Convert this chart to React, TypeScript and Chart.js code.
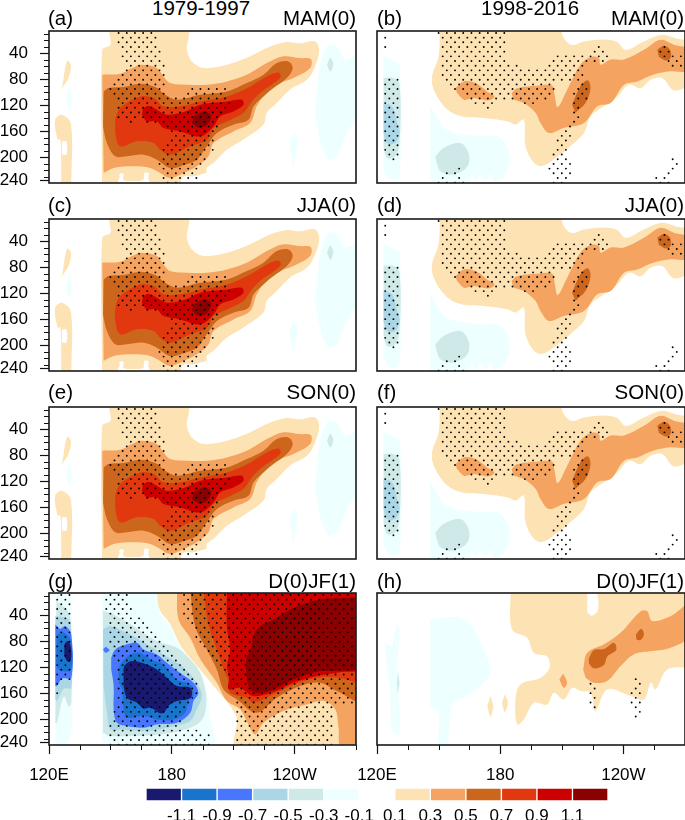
import React, { useEffect, useRef } from "react";
import { Chart, registerables } from "chart.js";
Chart.register(...registerables);

const FONT = "'Liberation Sans', Arial, sans-serif";

const neg = ["#191970", "#1874CD", "#4876FF", "#ABD6E6", "#CFE9E9", "#EEFFFF"];
const pos = ["#FDE3B4", "#F4A460", "#CD661D", "#E2380F", "#CD0000", "#8B0000"];

const xMajor = [120, 180, 240];
const xMajorLabels = ["120E", "180", "120W"];
const xMinor = [135, 150, 165, 195, 210, 225, 255, 270];
const yMajor = [40, 80, 120, 160, 200, 236.4];
const yMajorLabels = ["40", "80", "120", "160", "200", "240"];
const yMinor = [10, 20, 30, 50, 60, 70, 90, 100, 110, 130, 140, 150, 170, 180, 190, 210, 220, 230];
const stippleDepths = [9, 16.2, 23.4, 30.6, 37.8, 45, 52.2, 59.4, 66.6, 73.8, 81, 88.2, 95.4, 102.6, 109.8, 117, 124.2, 131.4, 138.6, 145.8, 153, 160.2, 167.4, 174.6, 181.8, 189, 196.2, 203.4, 210.6, 217.8, 225, 232.2, 239.4];

// ---- 1979-1997 MAM/JJA/SON contours (lon, depth)
const aCream = [[145.9,244],[146,35],[150,27],[150.3,3],[187.4,3],[187.4,35],[189.8,53],[195.5,63],[206.9,58],[218.3,45],[228,30],[236.2,23],[242.7,25],[250,22],[252,35],[250,60.5],[246,81],[237.8,96],[231.3,117],[226.4,132],[224.8,150],[215,173],[206.9,189],[200.4,209],[197,217],[197,224],[194,227],[190,230],[185.7,230],[183,244],[171,244],[168.6,234],[168.6,225],[166.5,225],[166,235],[159,237],[156.4,235],[156.4,226],[154.5,226],[154.5,232],[152.4,244]];
const aSliverTop = [[126.3,96],[128.8,52],[130.7,58],[129.6,78],[127,91]];
const aSliverLow = [[126,244],[125.6,173],[124.2,173],[123,142.6],[126.3,135],[130.7,149],[130.9,244]];
const aSliverHole = [[126.3,176],[128.5,176],[128.5,196],[126.3,196]];
const aCyanRight = [[250.8,106.7],[252.4,60.5],[256.5,27],[260.6,30],[264.6,50],[271,45],[271,132],[265.5,163],[260.6,199],[256.5,204],[252.4,173],[250,132]];
const aCyanSpot = [[257.3,46],[258.9,55.4],[257.6,68.7],[255.8,57.9]];
const aCyanThin = [[239.4,163],[241.5,173],[240.2,199],[239.4,213],[238.6,199],[237.5,178]];
const aCyanLeft = [[129.6,92],[130.9,107],[130.9,122],[129.6,127],[128.3,112]];
const aP03 = [[146,73.3],[154.8,71.8],[160.5,63],[165.4,58],[172.7,63],[176,76],[179.2,86],[187.4,88.7],[197,88.7],[206.9,83.6],[216.6,73.3],[226.4,55.4],[234.5,45],[242.7,47.7],[247.9,49],[247.6,63],[239.4,78.5],[232.9,86],[226.4,99],[221.5,122],[218.3,147.7],[210.1,160.6],[200.4,178.5],[197.9,199],[192.2,214.4],[185.7,224.7],[179.2,232.4],[174.3,224.7],[169.5,217],[161.3,214.4],[151.6,217],[146.7,224.7]];
const aP05 = [[146.7,99],[149.1,93.8],[156.4,92.3],[164.6,87.2],[171.9,92.3],[176.8,104.1],[182.5,111.8],[193.9,104.1],[206.9,99],[216.6,86.2],[224.8,73.3],[231.3,55.4],[237,52.8],[239.1,63.1],[236.2,78.5],[229.7,93.8],[224.8,106.7],[219.9,122.1],[217.5,142.6],[210.1,150.3],[202,163.1],[197.1,183.6],[192.2,204.2],[186.5,211.9],[179.2,217],[172.7,204.2],[166.2,196.5],[158.1,199],[152.4,199],[148.3,178.5],[146.4,152.9]];
const aP07 = [[153.2,132.3],[155.6,122],[164.6,106.7],[171.1,109.3],[176,122],[184.1,122],[193.9,114.4],[206.9,106.7],[218.3,91.3],[226.4,75.9],[232.1,69.8],[233.2,76.9],[228.8,88.7],[224,99],[219.1,114.4],[215,132.3],[206.9,145.2],[200.4,155.4],[197.1,173.4],[189,183.6],[179.2,196.5],[174.3,188.8],[171.1,178.5],[163,175.9],[154.8,183.6],[152.4,163.1],[152.4,142.6]];
const aP09 = [[165.9,124.6],[168.6,121],[172.7,127.2],[177.6,134.9],[186.5,129.8],[193.9,119.5],[206.9,114.4],[214.2,111.8],[215,119.5],[210.1,129.8],[203.6,137.5],[200.4,152.9],[193.9,168.3],[184.1,160.6],[176,155.4],[172.7,145.2],[167.8,145.2],[165.4,134.9]];
const aP11 = [[190.6,137.5],[195.5,129.8],[199.1,134.9],[198,147.7],[193.9,155.4],[189.8,147.7]];

// ---- 1998-2016 MAM/JJA/SON contours
const bCream = [[150.6,3],[150,45],[146.8,76],[147.6,96],[153.3,124],[160.6,137],[172,140],[183.4,145],[187.4,150],[191.5,142.6],[192.3,183.6],[196.4,209],[200.4,214],[206.1,204],[215.9,178.5],[220.8,163],[224,137.5],[230.5,122],[237,106.7],[242.7,88.7],[248.4,94],[253.3,81],[258.9,78.5],[264.6,97.5],[272,86],[272,25],[265.4,17],[258.1,12],[250,22],[241,35],[237,23],[230.5,19],[220.8,22],[215,27.5],[211,17],[209.7,3]];
const bP03Main = [[185.5,101.6],[188.2,94],[198,90.3],[205.3,90.3],[206.5,104],[208,123],[212.6,96.4],[219,58],[224,46],[228,47.7],[228.9,58],[233.8,50],[240.3,50],[250,35],[258.1,19.5],[264.6,27],[272,35],[272,66.7],[263,68],[254.9,73],[246.8,83.6],[240.3,88.7],[233.8,117],[227.3,122],[220.8,147.7],[211,155.4],[203.7,163],[199.6,147.7],[197.2,132],[191.5,117],[186.6,111.8]];
const bP03Blob = [[158.2,94],[162.3,83.6],[168,86.2],[173.6,99],[177.2,106.7],[174.4,112.8],[167.1,109.3],[162.3,111.8],[159,101.6]];
const bP05Mid = [[215,119.5],[219,91.3],[222.6,82],[224,94],[221.5,117],[216.7,132]];
const bP05Right = [[256.5,35],[259.8,28.7],[262.7,35],[263,47.7],[260.6,51.3],[257.3,46]];
const bN01Left = [[123.2,42.6],[126.5,50],[131,58],[131,230],[126.5,235],[123.2,220]];
const bN03Left = [[123.2,78.5],[128.1,78.5],[131,88.7],[131,178.5],[128.8,199],[124.9,201.6],[123.2,183.6]];
const bN05Left = [[123.2,117],[127.3,122],[129.8,147.7],[131,163],[128.8,178.5],[124.9,178.5],[123.2,163]];
const bN01Main = [[146,122],[154.1,158],[172,168],[178.5,168],[183.4,183.6],[184.5,209],[181.8,230],[177,237.5],[175.4,225],[172.9,237.5],[170.4,227.5],[167.9,237.5],[166.3,225],[163.9,244],[146,244]];
const bN03Main = [[148.4,199],[152.4,186],[160.6,178.5],[164.6,194],[164.1,214.4],[157.3,227],[150.9,222],[149,209]];

// ---- 1979-1997 D(0)JF(1) contours
const gCream = [[172.7,2],[174,31],[179.2,54],[184.9,90],[193.9,124],[200.4,149],[208.5,180],[211.8,200],[211.8,246],[276,246],[276,2]];
const gP03 = [[182.5,2],[183.3,46.7],[189,75],[193.9,108],[202,144],[206.9,172],[213.4,185],[216.6,203],[220.7,223.7],[224.8,205.7],[234.5,187.7],[245.9,177.5],[254,172],[259.8,185],[261.4,211],[263,246],[276,246],[276,2]];
const gP05 = [[189,2],[191.4,57],[197.1,92.8],[202,123.6],[205.3,154.4],[211.8,169.8],[221.5,190.3],[231.3,167.2],[242.7,149.3],[252.4,144.1],[260.6,157],[276,175],[276,2]];
const gP07 = [[195.5,2],[197.9,55],[202,92.8],[205.3,123.6],[207.7,141.5],[208.5,159.5],[216.6,167.2],[219.9,174.9],[231.1,159.5],[242,144],[252.3,136],[260.6,136],[276,141],[276,2]];
const gP09 = [[206.9,2],[206.9,57],[208.5,92],[207,118],[208,136],[207.7,154],[213.4,152],[219.9,165],[231,157],[239.4,144],[252,133],[260.6,128.7],[276,118],[276,2]];
const gP11 = [[218.3,92.8],[221.5,62],[231.3,44],[239.4,28.7],[252.4,16],[262,14],[276,18],[276,116],[259,126],[252.4,126],[239.4,139],[229.7,154.4],[221.5,159.5],[217.5,149],[216.3,123.6],[216.3,108.2]];
const gN01 = [[145.9,2],[171.9,2],[174.3,36.4],[179.2,57],[184.9,92.8],[193,123.6],[197.1,159.5],[198.7,195.4],[199.6,244],[145.9,236]];
const gN03 = [[146.4,33.8],[151.6,39],[161.3,57],[172.7,80],[182.5,90.3],[188.2,105.7],[193.9,128.7],[196.8,164.7],[195.8,195.4],[192.2,208.3],[184.1,218.5],[174.3,223.7],[161.3,226.2],[150,226.2],[146.4,221]];
const gN05 = [[146.4,62],[150,57],[161.3,72.3],[167.8,85],[176,100.5],[184.9,118.5],[192.2,144],[194.7,164.7],[192.2,185],[189,203],[180.9,211],[167.8,218.5],[154.8,216],[150,216],[148.3,190],[146.7,149]];
const gN07 = [[150.4,105.7],[152.4,92.8],[158.1,85],[163,82.6],[166.2,92.8],[172.7,100.5],[177.6,113.4],[184.9,131],[190.6,144],[193,159.5],[190.6,172.4],[189,190.3],[182.5,205.7],[172.7,208.3],[166.2,213.4],[158.1,210.8],[153.2,205.7],[151.6,185.2],[151.6,149.3],[150.4,123.6]];
const gN07Spot = [[147.7,88.7],[149.6,93.9],[147.7,98],[146.4,92.9]];
const gN09 = [[154,128.7],[154.8,115.9],[159.7,100.5],[164.6,98],[169.5,108.2],[176,115.9],[182.5,139],[189,146.7],[190.6,162],[188.2,172.4],[186.5,190.3],[180.9,200.6],[172.7,200.6],[166.2,195.4],[158.1,198],[156.4,185.2],[155.6,154.4],[154,144]];
const gN11 = [[156.4,133.9],[156.8,118.5],[160.5,110.8],[167.8,116],[172.7,123.6],[177.6,136.4],[182.5,149.3],[189,151.8],[189.3,167.2],[182.5,172.4],[179.2,177.5],[175.2,191.3],[169.5,182.6],[166.2,184],[163,174.9],[158.1,167.2],[156.4,149.3]];
const gStripN01 = [[123.1,2],[130,2],[130.9,100],[130.9,220],[127.2,244],[123.1,244]];
const gStripN03 = [[123.6,18.5],[129.6,36.4],[130.9,72.3],[130.9,175],[129.6,180.6],[127.2,165.3],[123.9,206],[123.1,206]];
const gStripN05 = [[123.1,41.5],[129.6,46.7],[130.9,72.3],[130.9,151.8],[127.2,153.4],[123.9,172.4],[123.1,170]];
const gStripN07 = [[123.1,54.4],[125.5,61],[128,57],[130.9,69.8],[130.9,136.4],[126.3,138],[123.9,149.3],[123.1,149.3]];
const gStripN09 = [[123.9,69.8],[127.2,67.2],[130.7,80],[130.7,123.6],[126.3,126.2],[123.9,118.5],[123.6,98]];
const gStripN11 = [[127.5,85],[129.3,80],[130.7,90.3],[130.7,108.2],[129.3,112.3],[127.5,103]];

// ---- 1998-2016 D(0)JF(1) contours
const hCream = [[185,2],[185.8,62],[193.1,74.9],[196.4,98],[202.9,104],[204,121],[199.6,136.4],[189.9,146.7],[187.4,169.8],[188.3,208.3],[191.5,200.6],[196.4,175],[202.9,177.7],[206.1,159.5],[211,169.8],[215.1,151.8],[219.1,157],[224,159.5],[226.4,187.7],[232.1,154.4],[243.5,164.7],[250,169.8],[253.3,144],[255.7,154.4],[261.4,123.6],[276,113.4],[276,2]];
const hNotch = [[222.4,2],[226.5,2],[227.7,30.7],[224.8,41],[222.4,36]];
const hOvalA = [[175.3,164.7],[176.6,180],[175.3,196.5],[173.7,180]];
const hOvalB = [[182.2,162],[183.8,175],[182.2,189.3],[180.9,175]];
const hP03 = [[220.4,123.6],[222.4,98],[230.5,85],[238.6,67.2],[248.4,34],[251.6,34],[254,49.2],[263,41.5],[272,24],[272,72.3],[263,90.3],[254,95.4],[245,100.5],[238.6,118.5],[232.1,141.6],[225.6,144],[221.6,136.4]];
const hP03Oval = [[210.7,129.8],[212.6,144],[211,151.8],[208.8,139]];
const hP05A = [[223.2,106.7],[225.6,93.8],[230.5,92.3],[235.4,82.6],[236.5,93.8],[232.1,104],[230.5,116.8],[225.6,122],[223.2,114.4]];
const hP05B = [[246.1,70],[248.7,61],[250,70],[248.4,78.5],[246.3,77.6]];
const hN01Main = [[146,46.7],[160.6,44],[167.1,62],[175.2,123.6],[172,144],[163.9,164.7],[157.4,175],[155.7,195.4],[154.1,244],[150,244],[150,190],[146,180]];
const hN01Left = [[129.8,51.8],[131,62],[129.8,123.6],[131,223.7],[127.3,216],[126.5,159.5],[124,85],[127.3,88]];
const hN03 = [[130.2,126],[130.9,144],[130.2,159.5],[129.8,144]];

// ---- stippling: per row of stippleDepths, pairs of [lonFrom, lonTo]
const stippleA = [[153,173],[153,173.5],[154,173.5],[155.6,173.5],[155.6,174.3],[155.6,175.5],[155.6,176],[157.3,176],[155.6,176],[153.2,176],[152.4,176.8],[150,177.6],[150,177.6,187.4,207],[151.6,179.2,184.9,207],[151.6,208],[153.2,208.5],[153.2,207],[154,205.3],[154,203.6],[158.9,160.5,166.2,202],[174.3,202],[177.6,200.4],[179.2,200.4],[177.6,200.4],[176,200.4],[174.3,200.4],[174.3,197],[173.5,197],[173.5,195.5],[174.3,195.5],[176,193.9],[176,192.2],[175.2,183.3]];
const stippleB = [[149,150,153,183],[124,125,151,183],[152.5,183],[124,125,150.9,183.4,224.8,229.7,258,262],[150.9,183.4,222.4,232.1,257.3,263],[150.9,183.4,204.5,235.4,259.8,269.5],[150.9,185,202.9,232.9,261.4,269.5],[150.9,189.9,200.4,220.8,261.4,269.5],[151.7,220.8],[151.7,220.8],[123,130,153.3,220.8],[123,130,154.9,206,217.5,223.2],[123,130,156.6,206,217.5,223.2],[123,130,162.3,204.5,215.9,223.2],[123,130,163.9,204.5,215.9,222.4],[123,130,166.3,176.9,189.9,198,215.9,219.9],[123,130,172,176.9,215.9,219.9],[123,130,215.9,219.1],[123,130,214.3,219.1],[123,130,212.6,217.5],[123,130,211,215.9],[123,130,209.4,214.3],[123,130,207.8,214.3],[123,130,206.1,213.4],[123,130,206.1,212.6],[123,130,205.3,212.6],[125.7,130,204.5,211.8],[127.3,128.1,204.5,215.9,263.8,264.8],[202.9,215.1,263,267.1],[157,161,203.7,215.1,261.4,265.4],[150.9,161,204.5,214.3,261.4,265.4],[150.9,154,159,161,205.3,213.4,254,263],[146.8,163.9,205.3,213.4,255.7,265.4]];
const stippleG = [[123,131,147.5,158,184,270],[123,131,147.5,158.9,184.2,270],[123,131,147.5,159,185,270],[123,131,147.5,160.5,185.5,270],[123,131,147.5,161.3,185.7,270],[123,131,148.3,164.6,186.5,270],[123,131,148.3,167.8,187.4,270],[123,131,148.3,169.5,189,270],[123,131,148.3,172,190.6,270],[123,131,149,173.5,192,270],[123,131,150,176,194,270],[123,131,150.8,177.6,195.5,270],[123,131,150.8,179,197,270],[123,131,150.8,181,198.7,270],[123,131,151.6,184,200.4,270],[123,131,152.4,185.7,202,270],[123,131,152.4,187.4,203.6,270],[123,131,153.2,190,205,270],[123,131,153.2,191.4,207,270],[123,125,153.2,192.2,208.5,270],[123,125,153.2,193,210,270],[123,125,152.4,192.2,210,270],[152.4,190,211.8,270],[152.4,190,211.8,270],[152.4,187.4,211.8,259],[151.6,186.5,211.8,259],[151.6,185.7,211.8,259],[150.8,185,211.8,259],[150,184,211.8,259],[150,195.5,211.8,259],[150,198.5,211.8,259],[150,198.5,211.8,259],[150,198.5,211.8,259]];
const stippleH = [[],[],[],[],[],[],[],[],[],[],[],[],[],[],[],[],[],[],[245.9,246.1],[223.9,224.1,247.9,248.1],[225.9,226.1,245.9,246.1],[223.9,224.1,243.9,248.1],[225.9,226.1,245.9,246.1],[223.9,224.1,243.9,248.1],[225.9,226.1,245.9,246.1],[247.9,248.1],[245.9,246.1]];

// ---- panels
type Layer = [string, number[][]];
const layersA: Layer[] = [[pos[0], aCream],[pos[0], aSliverTop],[pos[0], aSliverLow],["#ffffff", aSliverHole],[neg[5], aCyanRight],[neg[4], aCyanSpot],[neg[5], aCyanThin],[neg[5], aCyanLeft],[pos[1], aP03],[pos[2], aP05],[pos[3], aP07],[pos[4], aP09],[pos[5], aP11]];
const layersB: Layer[] = [[pos[0], bCream],[pos[1], bP03Main],[pos[1], bP03Blob],[pos[2], bP05Mid],[pos[2], bP05Right],[neg[5], bN01Left],[neg[4], bN03Left],[neg[3], bN05Left],[neg[5], bN01Main],[neg[4], bN03Main]];
const layersG: Layer[] = [[neg[5], gN01],[neg[4], gN03],[neg[3], gN05],[neg[2], gN07],[neg[2], gN07Spot],[neg[1], gN09],[neg[0], gN11],[neg[5], gStripN01],[neg[4], gStripN03],[neg[3], gStripN05],[neg[2], gStripN07],[neg[1], gStripN09],[neg[0], gStripN11],[pos[0], gCream],[pos[1], gP03],[pos[2], gP05],[pos[3], gP07],[pos[4], gP09],[pos[5], gP11]];
const layersH: Layer[] = [[neg[5], hN01Main],[neg[5], hN01Left],[neg[4], hN03],[pos[0], hCream],["#ffffff", hNotch],[pos[0], hOvalA],[pos[0], hOvalB],[pos[1], hP03],[pos[1], hP03Oval],[pos[2], hP05A],[pos[2], hP05B]];

const panelLetters = ["(a)", "(b)", "(c)", "(d)", "(e)", "(f)", "(g)", "(h)"];
const panelSeasons = ["MAM(0)", "MAM(0)", "JJA(0)", "JJA(0)", "SON(0)", "SON(0)", "D(0)JF(1)", "D(0)JF(1)"];
const panelLayers = [layersA, layersB, layersA, layersB, layersA, layersB, layersG, layersH];
const panelStipple = [stippleA, stippleB, stippleA, stippleB, stippleA, stippleB, stippleG, stippleH];
const rowTops = [31, 219, 407, 593];
const letterTops = [8, 195, 382, 571];

const bandLow = [-1.3, -1.1, -0.9, -0.7, -0.5, -0.3, 0.1, 0.3, 0.5, 0.7, 0.9, 1.1];
const bandHigh = [-1.1, -0.9, -0.7, -0.5, -0.3, -0.1, 0.3, 0.5, 0.7, 0.9, 1.1, 1.3];
const bandColors = [...neg, ...pos];
const bandTicks = [-1.1, -0.9, -0.7, -0.5, -0.3, -0.1, 0.1, 0.3, 0.5, 0.7, 0.9, 1.1];

function stipplePoints(rows: number[][]) {
  const pts: { x: number; y: number }[] = [];
  rows.forEach((row, k) => {
    for (let i = 0; i < row.length; i += 2) {
      for (let lon = 120 + (k % 2 === 0 ? 2 : 0); lon <= 270; lon += 4) {
        if (lon >= row[i] && lon <= row[i + 1]) pts.push({ x: lon, y: stippleDepths[k] });
      }
    }
  });
  return pts;
}

const zeroPadding = (s: any) => {
  s.paddingTop = 0;
  s.paddingBottom = 0;
  s.paddingLeft = 0;
  s.paddingRight = 0;
};

const framePlugin = {
  id: "frame",
  afterDraw(chart: any) {
    const { ctx, chartArea: a, scales } = chart;
    ctx.save();
    ctx.strokeStyle = "#111";
    ctx.lineWidth = 1;
    const yOpt = scales.y.options.display;
    const xOpt = scales.x.options.display;
    ctx.beginPath();
    if (yOpt) yMinor.forEach((v) => {
      const p = Math.round(scales.y.getPixelForValue(v)) + 0.5;
      ctx.moveTo(a.left - 5, p);
      ctx.lineTo(a.left, p);
    });
    if (xOpt) xMinor.forEach((v) => {
      const p = Math.round(scales.x.getPixelForValue(v)) + 0.5;
      ctx.moveTo(p, a.bottom);
      ctx.lineTo(p, a.bottom + 5);
    });
    ctx.stroke();
    ctx.lineWidth = 1.6;
    ctx.strokeStyle = "#1a1a1a";
    ctx.strokeRect(a.left, a.top, a.right - a.left, a.bottom - a.top);
    ctx.restore();
  },
};

function Panel({ index }: { index: number }) {
  const ref = useRef<HTMLCanvasElement>(null);
  const isLeft = index % 2 === 0;
  const row = Math.floor(index / 2);
  const showX = row === 3;
  const padLeft = isLeft ? 0 : 37;
  const height = 6 + 152 + (showX ? 50 : 6);
  const width = isLeft ? 362 : 351;
  useEffect(() => {
    const datasets: any[] = panelLayers[index].map(([color, pts]) => ({
      data: pts.map(([x, y]) => ({ x, y })),
      showLine: true,
      fill: "shape",
      backgroundColor: color,
      borderWidth: 0,
      pointRadius: 0,
      tension: 0.35,
    }));
    datasets.push({
      data: stipplePoints(panelStipple[index]),
      showLine: false,
      pointRadius: 0.95,
      pointBorderWidth: 0,
      pointBackgroundColor: "#000",
    });
    datasets.reverse();
    const chart = new Chart(ref.current!, {
      type: "scatter",
      data: { datasets },
      plugins: [framePlugin],
      options: {
        animation: false,
        responsive: false,
        events: [],
        layout: {
          autoPadding: false,
          padding: { left: padLeft, right: 6, top: 6, bottom: showX ? 0 : 6 },
        },
        plugins: { legend: { display: false }, tooltip: { enabled: false } },
        scales: {
          x: {
            type: "linear",
            min: 120,
            max: 270,
            display: showX,
            border: { display: false },
            grid: { drawOnChartArea: false, tickLength: 9, tickColor: "#111", tickWidth: 1.2 },
            ticks: {
              autoSkip: false,
              maxRotation: 0,
              padding: 11,
              color: "#000",
              font: { family: FONT, size: 17 },
              callback: (_v: any, i: number) => xMajorLabels[i],
            },
            afterBuildTicks: (s: any) => { s.ticks = xMajor.map((value) => ({ value })); },
            afterFit: (s: any) => { zeroPadding(s); if (showX) s.height = 50; },
          },
          y: {
            type: "linear",
            reverse: true,
            min: 6,
            max: 240,
            display: isLeft,
            border: { display: false },
            grid: { drawOnChartArea: false, tickLength: 9, tickColor: "#111", tickWidth: 1.2 },
            ticks: {
              autoSkip: false,
              padding: 12,
              color: "#000",
              font: { family: FONT, size: 17 },
              callback: (_v: any, i: number) => yMajorLabels[i],
            },
            afterBuildTicks: (s: any) => { s.ticks = yMajor.map((value) => ({ value })); },
            afterFit: (s: any) => { zeroPadding(s); if (isLeft) s.width = 49; },
          },
        },
      } as any,
    });
    return () => chart.destroy();
  }, []);
  return (
    <canvas
      ref={ref}
      width={width}
      height={height}
      style={{ position: "absolute", left: isLeft ? 0 : 340, top: rowTops[row] - 6, width, height }}
    />
  );
}

function ColorBar() {
  const ref = useRef<HTMLCanvasElement>(null);
  useEffect(() => {
    const chart = new Chart(ref.current!, {
      type: "bar",
      data: {
        labels: ["level"],
        datasets: bandLow.map((lo, i) => ({
          data: [[lo, bandHigh[i]]],
          backgroundColor: bandColors[i],
          borderColor: "#fff",
          borderWidth: 1,
          borderSkipped: false,
          barPercentage: 1,
          categoryPercentage: 1,
          grouped: false,
        })),
      } as any,
      options: {
        indexAxis: "y",
        animation: false,
        responsive: false,
        events: [],
        layout: { autoPadding: false, padding: { left: 26, right: 12, top: 0, bottom: 0 } },
        plugins: { legend: { display: false }, tooltip: { enabled: false } },
        scales: {
          y: { display: false },
          x: {
            type: "linear",
            min: -1.3,
            max: 1.3,
            border: { display: false },
            grid: { display: false, drawTicks: false },
            ticks: {
              autoSkip: false,
              maxRotation: 0,
              padding: 5,
              color: "#000",
              font: { family: FONT, size: 17 },
              callback: (_v: any, i: number) => bandTicks[i].toFixed(1),
            },
            afterBuildTicks: (s: any) => { s.ticks = bandTicks.map((value) => ({ value })); },
            afterFit: (s: any) => { zeroPadding(s); s.height = 28; },
          },
        },
      } as any,
    });
    return () => chart.destroy();
  }, []);
  return (
    <canvas
      ref={ref}
      width={500}
      height={41}
      style={{ position: "absolute", left: 120, top: 788, width: 500, height: 41 }}
    />
  );
}

const textStyle = (top: number): React.CSSProperties => ({
  position: "absolute",
  top,
  font: `20.5px/20px ${FONT}`,
  color: "#000",
  whiteSpace: "nowrap",
});

export default function App() {
  return (
    <div style={{ position: "absolute", left: 0, top: 0, width: 685, height: 820, overflow: "hidden", background: "#fff" }}>
      {panelLetters.map((_, i) => <Panel key={i} index={i} />)}
      <ColorBar />
      <div style={{ ...textStyle(-2), left: 152 }}>1979-1997</div>
      <div style={{ ...textStyle(-2), left: 481 }}>1998-2016</div>
      {panelLetters.map((t, i) => {
        const left = i % 2 === 0;
        const top = letterTops[Math.floor(i / 2)];
        return (
          <React.Fragment key={t}>
            <div style={{ ...textStyle(top), left: left ? 48 : 377 }}>{t}</div>
            <div style={{ ...textStyle(top), right: left ? 329 : 1 }}>{panelSeasons[i]}</div>
          </React.Fragment>
        );
      })}
    </div>
  );
}
